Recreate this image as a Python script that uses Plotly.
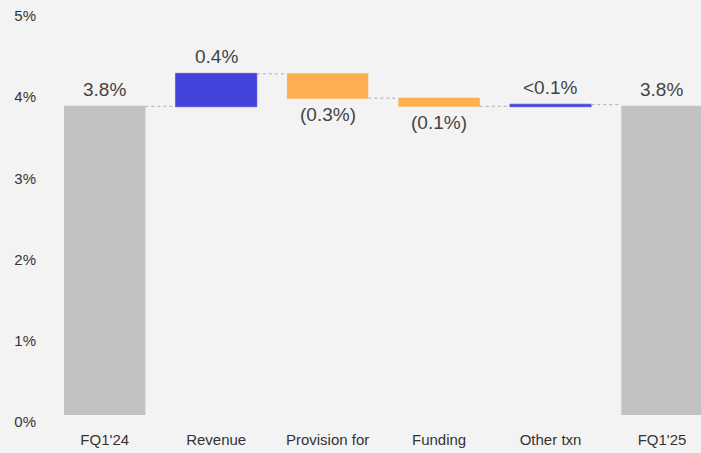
import plotly.graph_objects as go

# Net margin bridge, FQ1'24 -> FQ1'25 (percentage points)
categories = ["FQ1'24", "Revenue", "Provision for", "Funding", "Other txn", "FQ1'25"]
measures = ["absolute", "relative", "relative", "relative", "relative", "absolute"]
values = [3.8, 0.4, -0.3, -0.1, 0.02, 3.8]
labels = ["3.8%", "0.4%", "(0.3%)", "(0.1%)", "<0.1%", "3.8%"]
y_ticks = [0, 1, 2, 3, 4, 5]

BG = "#f3f3f3"
BLUE = "#4343dc"
ORANGE = "#fdb052"
GREY = "#c2c2c2"
TEXT = "#444444"
FONT = "Liberation Sans"

fig = go.Figure()
fig.add_trace(go.Waterfall(
    x=categories,
    y=values,
    measure=measures,
    increasing=dict(marker=dict(color=BLUE, line=dict(color=BLUE, width=0.6))),
    decreasing=dict(marker=dict(color=ORANGE, line=dict(color=ORANGE, width=0))),
    totals=dict(marker=dict(color=GREY, line=dict(color=GREY, width=0))),
    connector=dict(mode="between", line=dict(color="#b0b0b0", width=1, dash="dot")),
    textposition="none",
    hoverinfo="skip",
))

# Value labels: above rising/total bars, below falling bars
running = 0.0
for cat, m, v, lab in zip(categories, measures, values, labels):
    if m == "absolute":
        start, end = 0.0, v
        running = v
    else:
        start, end = running, running + v
        running = end
    if v >= 0:
        y, shift = max(start, end), 17
    else:
        y, shift = min(start, end), -16
    fig.add_annotation(
        x=cat, y=y, text=lab, showarrow=False,
        yanchor="middle", yshift=shift,
        font=dict(family=FONT, size=19, color=TEXT),
    )

fig.update_layout(
    width=701, height=453,
    margin=dict(l=49, r=0, t=8, b=38),
    paper_bgcolor=BG, plot_bgcolor=BG,
    showlegend=False,
    waterfallgap=0.27,
    font=dict(family=FONT, color="#333333"),
)
fig.update_xaxes(
    type="category", range=[-0.5, 5.35], automargin=False,
    showgrid=False, zeroline=False, showline=False,
    ticks="", ticklabelstandoff=14,
    tickfont=dict(family=FONT, size=15, color="#333333"),
)
fig.update_yaxes(
    range=[0, 5.01], tickvals=y_ticks, automargin=False,
    ticktext=[f"{t}%" for t in y_ticks],
    showgrid=False, zeroline=False, showline=False,
    ticks="", ticklabelstandoff=12, ticklabelshift=7,
    tickfont=dict(family=FONT, size=15, color="#333333"),
)

fig.write_html("out.html")
